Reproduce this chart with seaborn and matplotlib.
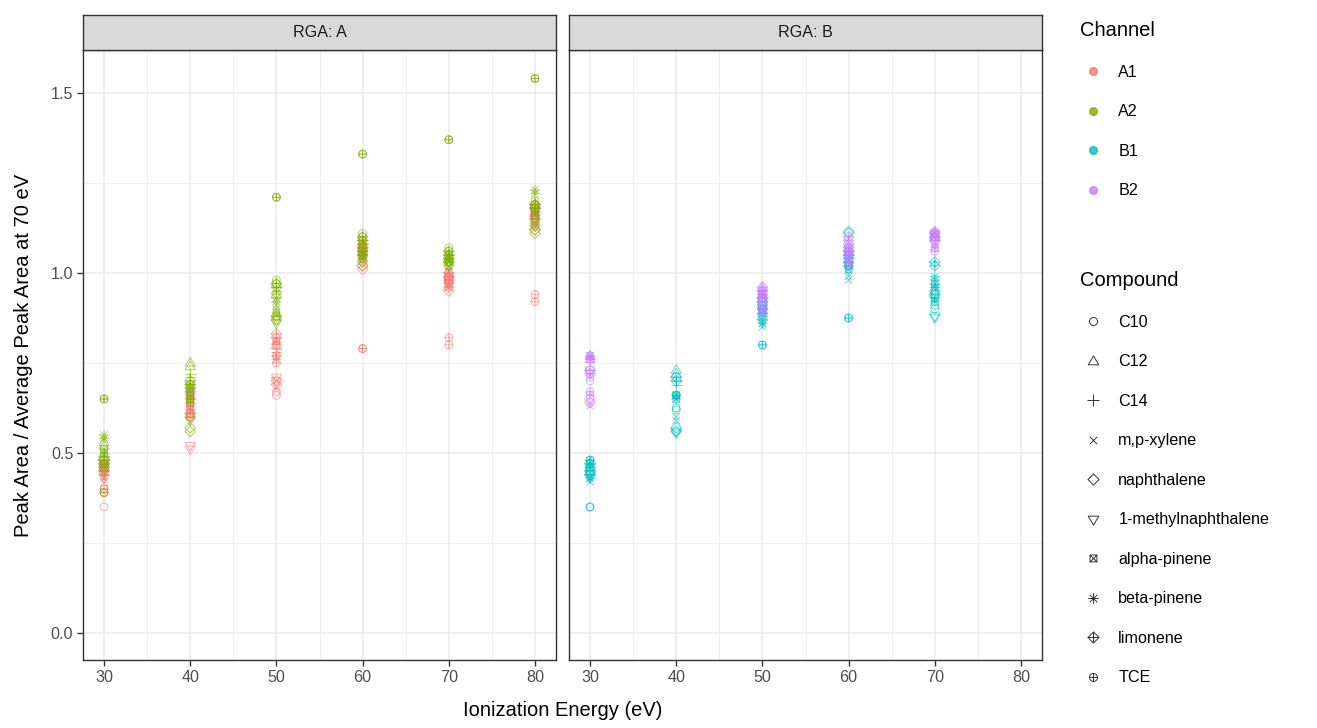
import numpy as np
import pandas as pd
import matplotlib
matplotlib.use("Agg")
import matplotlib.pyplot as plt
import seaborn as sns
from matplotlib.path import Path
from matplotlib.lines import Line2D

# ---------------- data ----------------
COMPOUNDS = ["C10", "C12", "C14", "m,p-xylene", "naphthalene",
             "1-methylnaphthalene", "alpha-pinene", "beta-pinene", "limonene", "TCE"]
CHANNELS = ["A1", "A2", "B1", "B2"]
CHANNEL_RGA = ["A", "A", "B", "B"]
ENERGY_A = [30, 40, 50, 60, 70, 80]
ENERGY_B = [30, 40, 50, 60, 70]

# rows = energy, columns = compound (same order as COMPOUNDS); two replicates
A1_REP1 = [[0.35, 0.46, 0.44, 0.42, 0.45, 0.43, 0.47, 0.44, 0.48, 0.40],
           [0.62, 0.66, 0.64, 0.61, 0.60, 0.52, 0.65, 0.63, 0.67, 0.61],
           [0.66, 0.80, 0.79, 0.70, 0.69, 0.71, 0.81, 0.77, 0.82, 0.75],
           [1.05, 1.07, 1.08, 1.04, 1.02, 1.03, 1.09, 1.06, 1.08, 0.79],
           [0.97, 0.99, 1.00, 0.96, 0.95, 0.98, 0.99, 0.97, 1.00, 0.82],
           [1.16, 1.17, 1.18, 1.14, 1.12, 1.15, 1.16, 1.17, 1.19, 0.94]]
A1_REP2 = [[0.39, 0.47, 0.45, 0.43, 0.46, 0.44, 0.46, 0.45, 0.47, 0.39],
           [0.63, 0.67, 0.65, 0.62, 0.61, 0.51, 0.64, 0.62, 0.68, 0.60],
           [0.67, 0.81, 0.78, 0.68, 0.70, 0.70, 0.80, 0.76, 0.83, 0.77],
           [1.04, 1.06, 1.07, 1.05, 1.01, 1.04, 1.08, 1.05, 1.07, 0.79],
           [0.98, 0.98, 0.99, 0.97, 0.96, 0.97, 1.00, 0.96, 0.99, 0.80],
           [1.15, 1.16, 1.17, 1.13, 1.13, 1.14, 1.18, 1.16, 1.18, 0.92]]
A2_REP1 = [[0.39, 0.53, 0.50, 0.46, 0.48, 0.45, 0.51, 0.55, 0.49, 0.65],
           [0.68, 0.75, 0.72, 0.66, 0.56, 0.59, 0.67, 0.69, 0.70, 0.65],
           [0.98, 0.95, 0.96, 0.91, 0.88, 0.86, 0.89, 0.93, 0.97, 1.21],
           [1.11, 1.08, 1.09, 1.05, 1.03, 1.04, 1.07, 1.06, 1.10, 1.33],
           [1.06, 1.05, 1.04, 1.03, 1.02, 1.03, 1.04, 1.05, 1.06, 1.37],
           [1.20, 1.19, 1.18, 1.15, 1.12, 1.13, 1.17, 1.23, 1.19, 1.54]]
A2_REP2 = [[0.40, 0.52, 0.49, 0.47, 0.47, 0.46, 0.50, 0.54, 0.48, 0.65],
           [0.69, 0.74, 0.71, 0.65, 0.57, 0.60, 0.66, 0.68, 0.69, 0.64],
           [0.97, 0.94, 0.95, 0.90, 0.87, 0.87, 0.88, 0.92, 0.96, 1.21],
           [1.10, 1.07, 1.08, 1.04, 1.02, 1.05, 1.06, 1.05, 1.09, 1.33],
           [1.07, 1.04, 1.05, 1.02, 1.03, 1.02, 1.03, 1.04, 1.05, 1.37],
           [1.19, 1.18, 1.19, 1.14, 1.11, 1.14, 1.16, 1.22, 1.18, 1.54]]
B1_REP1 = [[0.35, 0.45, 0.48, 0.42, 0.44, 0.43, 0.47, 0.44, 0.46, 0.48],
           [0.625, 0.73, 0.70, 0.60, 0.57, 0.555, 0.66, 0.65, 0.70, 0.66],
           [0.90, 0.91, 0.90, 0.85, 0.87, 0.88, 0.89, 0.86, 0.92, 0.80],
           [1.03, 1.05, 1.04, 0.98, 1.115, 1.01, 1.02, 1.03, 1.06, 0.875],
           [0.90, 0.95, 0.97, 0.93, 0.94, 0.875, 0.96, 0.98, 1.02, 0.92]]
B1_REP2 = [[0.35, 0.46, 0.47, 0.43, 0.45, 0.44, 0.46, 0.43, 0.47, 0.48],
           [0.62, 0.72, 0.69, 0.59, 0.56, 0.56, 0.65, 0.66, 0.71, 0.66],
           [0.91, 0.92, 0.89, 0.86, 0.88, 0.89, 0.90, 0.87, 0.93, 0.80],
           [1.02, 1.04, 1.05, 0.99, 1.11, 1.02, 1.01, 1.04, 1.05, 0.875],
           [0.91, 0.94, 0.96, 0.92, 0.95, 0.88, 0.97, 0.99, 1.03, 0.93]]
B2_REP1 = [[0.70, 0.76, 0.77, 0.63, 0.64, 0.72, 0.77, 0.76, 0.72, 0.67],
           [None] * 10,
           [0.93, 0.95, 0.94, 0.91, 0.92, 0.90, 0.93, 0.94, 0.96, 0.89],
           [1.05, 1.07, 1.06, 1.03, 1.08, 1.04, 1.06, 1.05, 1.09, 1.02],
           [1.10, 1.11, 1.10, 1.07, 1.09, 1.08, 1.11, 1.10, 1.115, 1.06]]
B2_REP2 = [[0.71, 0.77, 0.76, 0.64, 0.65, 0.73, 0.76, 0.77, 0.73, 0.66],
           [None] * 10,
           [0.94, 0.96, 0.93, 0.90, 0.93, 0.91, 0.94, 0.95, 0.95, 0.90],
           [1.06, 1.08, 1.05, 1.04, 1.07, 1.05, 1.07, 1.06, 1.10, 1.03],
           [1.11, 1.10, 1.09, 1.08, 1.10, 1.09, 1.10, 1.11, 1.11, 1.07]]

PALETTE = {"A1": "#F8766D", "A2": "#7CAE00", "B1": "#00BFC4", "B2": "#C77CFF"}

# ---------------- build dataframe ----------------
rows = []
sources = {"A1": (ENERGY_A, [A1_REP1, A1_REP2]),
           "A2": (ENERGY_A, [A2_REP1, A2_REP2]),
           "B1": (ENERGY_B, [B1_REP1, B1_REP2]),
           "B2": (ENERGY_B, [B2_REP1, B2_REP2])}
for ch, rga in zip(CHANNELS, CHANNEL_RGA):
    energies, reps = sources[ch]
    for rep in reps:
        for e, vals in zip(energies, rep):
            for comp, v in zip(COMPOUNDS, vals):
                if v is not None:
                    rows.append(dict(rga=rga, channel=ch, energy=e, compound=comp, value=v))
df = pd.DataFrame(rows)

# ---------------- marker paths (ggplot-like hollow shapes) ----------------
M, L, C = Path.MOVETO, Path.LINETO, Path.CLOSEPOLY


def segs(pairs):
    verts, codes = [], []
    for (a, b) in pairs:
        verts += [a, b]
        codes += [M, L]
    return verts, codes


def poly(pts):
    verts = list(pts) + [pts[0]]
    codes = [M] + [L] * (len(pts) - 1) + [C]
    return verts, codes


def extent(r):
    # invisible zero-length stroke, only fixes the marker's normalising extent
    return [(0, r), (0, r)], [M, L]


def combine(*parts):
    v, c = [], []
    for pv, pc in parts:
        v += pv
        c += pc
    return Path(np.array(v, float), c)


R = 0.72
circ = Path.unit_circle()
circ_part = ([tuple(p * R) for p in circ.vertices], list(circ.codes))
plus_full = segs([((-1, 0), (1, 0)), ((0, -1), (0, 1))])
plus_small = segs([((-R, 0), (R, 0)), ((0, -R), (0, R))])
x_part = segs([((-0.68, -0.68), (0.68, 0.68)), ((-0.68, 0.68), (0.68, -0.68))])
tri_up = poly([(0, 1.0), (-0.95, -0.6), (0.95, -0.6)])
tri_dn = poly([(0, -1.0), (-0.95, 0.6), (0.95, 0.6)])
diam = poly([(0, 1), (1, 0), (0, -1), (-1, 0)])
s = 0.62
sq = poly([(-s, -s), (s, -s), (s, s), (-s, s)])
sqx = segs([((-s, -s), (s, s)), ((-s, s), (s, -s))])
ast_x = segs([((-0.68, -0.68), (0.68, 0.68)), ((-0.68, 0.68), (0.68, -0.68))])
plus_ast = segs([((-0.95, 0), (0.95, 0)), ((0, -0.95), (0, 0.95))])

MARKERS = {
    "C10": combine(circ_part, extent(1.0)),
    "C12": combine(tri_up),
    "C14": combine(plus_full),
    "m,p-xylene": combine(x_part, extent(1.0)),
    "naphthalene": combine(diam),
    "1-methylnaphthalene": combine(tri_dn),
    "alpha-pinene": combine(sq, sqx, extent(1.0)),
    "beta-pinene": combine(plus_ast, ast_x, extent(1.0)),
    "limonene": combine(diam, plus_full),
    "TCE": combine(circ_part, plus_small, extent(1.0)),
}

# ---------------- figure ----------------
W, H = 1317, 728
fig = plt.figure(figsize=(W / 100, H / 100), dpi=100)
plt.rcParams["font.family"] = ["Liberation Sans", "DejaVu Sans"]

panels = [("A", 83, 556), ("B", 569, 1042)]
top_px, bot_px = 50, 660
strip_top = 15
TXT = 11.6

for i, (rga, x0, x1) in enumerate(panels):
    ax = fig.add_axes([x0 / W, 1 - bot_px / H, (x1 - x0) / W, (bot_px - top_px) / H])
    sub = df[df["rga"] == rga]
    sns.scatterplot(data=sub, x="energy", y="value", hue="channel", style="compound",
                    palette=PALETTE, hue_order=[c for c in CHANNELS if c in set(sub.channel)],
                    style_order=COMPOUNDS, markers=MARKERS, s=60, linewidth=0.7,
                    alpha=0.6, legend=False, ax=ax, zorder=3)
    for coll in ax.collections:
        fc = coll.get_facecolors()
        coll.set_edgecolors(fc)
        coll.set_facecolors("none")
    ax.set_xlim(27.56, 82.44)
    ax.set_ylim(-0.075, 1.619)
    ax.set_xticks([30, 40, 50, 60, 70, 80])
    ax.set_xticks([35, 45, 55, 65, 75], minor=True)
    ax.set_yticks([0.0, 0.5, 1.0, 1.5])
    ax.set_yticks([0.25, 0.75, 1.25], minor=True)
    ax.set_yticklabels(["0.0", "0.5", "1.0", "1.5"])
    ax.grid(which="major", color="#EBEBEB", linewidth=1.1)
    ax.grid(which="minor", color="#EBEBEB", linewidth=0.55)
    ax.set_axisbelow(True)
    for sp in ax.spines.values():
        sp.set_color("#333333")
        sp.set_linewidth(1.0)
    ax.tick_params(which="major", color="#333333", length=4, width=1,
                   labelcolor="#4D4D4D", labelsize=TXT, pad=3)
    ax.tick_params(which="minor", length=0)
    ax.set_xlabel("")
    ax.set_ylabel("")
    if i == 1:
        ax.tick_params(axis="y", left=False, labelleft=False)
    # strip
    sax = fig.add_axes([x0 / W, 1 - top_px / H, (x1 - x0) / W, (top_px - strip_top) / H])
    sax.set_facecolor("#D9D9D9")
    sax.set_xticks([])
    sax.set_yticks([])
    for sp in sax.spines.values():
        sp.set_color("#333333")
        sp.set_linewidth(1.0)
    sax.text(0.5, 0.5, f"RGA: {rga}", ha="center", va="center",
             fontsize=TXT, color="#1A1A1A", transform=sax.transAxes)

fig.text(562.5 / W, 1 - 711 / H, "Ionization Energy (eV)", ha="center", va="center",
         fontsize=14.5, color="black")
fig.text(24 / W, 1 - 355 / H, "Peak Area / Average Peak Area at 70 eV", ha="center",
         va="center", rotation=90, fontsize=14.5, color="black")

# legends
ch_handles = [Line2D([], [], marker="o", linestyle="none", markersize=5.5,
                     markerfacecolor=PALETTE[c], markeredgecolor=PALETTE[c], alpha=0.8)
              for c in CHANNELS]
leg1 = fig.legend(ch_handles, CHANNELS, title="Channel", loc="upper left",
                  bbox_to_anchor=(1074 / W, 1 - 15 / H), frameon=False,
                  fontsize=TXT, title_fontsize=14.5, labelspacing=1.52,
                  handletextpad=0.75, handlelength=1.6, borderaxespad=0)
leg1._legend_box.align = "left"

cp_handles = [Line2D([], [], marker=MARKERS[c], linestyle="none", markersize=8,
                     markerfacecolor="none", markeredgecolor="#333333",
                     markeredgewidth=0.7) for c in COMPOUNDS]
leg2 = fig.legend(cp_handles, COMPOUNDS, title="Compound", loc="upper left",
                  bbox_to_anchor=(1074 / W, 1 - 265 / H), frameon=False,
                  fontsize=TXT, title_fontsize=14.5, labelspacing=1.52,
                  handletextpad=0.75, handlelength=1.6, borderaxespad=0)
leg2._legend_box.align = "left"

fig.savefig("out.png", dpi=100)
